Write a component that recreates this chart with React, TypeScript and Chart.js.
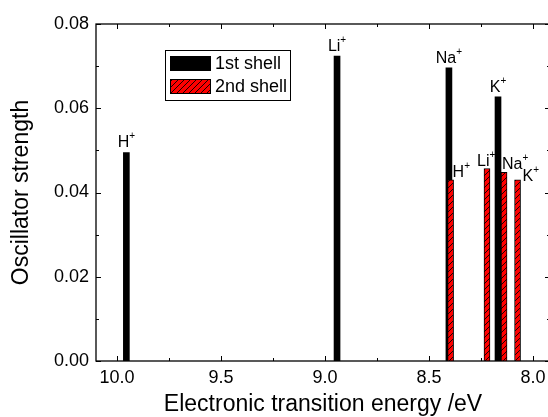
import React, { useEffect, useRef } from "react";
import { Chart, registerables } from "chart.js";

Chart.register(...registerables);

const ions = ["H", "Li", "Na", "K"];
const shell1Energy = [9.955, 8.942, 8.404, 8.168];
const shell1Strength = [0.0495, 0.0724, 0.0696, 0.0627];
const shell2Energy = [8.396, 8.221, 8.139, 8.074];
const shell2Strength = [0.043, 0.0457, 0.0448, 0.043];
const xTickValues = [10.0, 9.5, 9.0, 8.5, 8.0];
const xMinorValues = [10.0, 9.75, 9.5, 9.25, 9.0, 8.75, 8.5, 8.25, 8.0];
const yTickValues = [0.0, 0.02, 0.04, 0.06, 0.08];
const yMinorValues = [0.0, 0.01, 0.02, 0.03, 0.04, 0.05, 0.06, 0.07, 0.08];
const seriesNames = ["1st shell", "2nd shell"];

// label placement (style only): offsets of the 2nd-shell labels from bar centre / top
const shell2LabelDx = [2, -10, -2, 5];
const shell2LabelDy = [-3, -2, -3, 1];

const FONT = "'Liberation Sans', Arial, sans-serif";
const CANVAS_W = 553;
const CANVAS_H = 417;

function makeHatch(): CanvasPattern | string {
  const c = document.createElement("canvas");
  c.width = 6;
  c.height = 6;
  const g = c.getContext("2d");
  if (!g) return "#ff0000";
  g.fillStyle = "#ff0000";
  g.fillRect(0, 0, 6, 6);
  g.strokeStyle = "#000";
  g.lineWidth = 0.9;
  g.beginPath();
  g.moveTo(0, 6);
  g.lineTo(6, 0);
  g.moveTo(-3, 3);
  g.lineTo(3, -3);
  g.moveTo(3, 9);
  g.lineTo(9, 3);
  g.stroke();
  const p = g.createPattern(c, "repeat");
  return p || "#ff0000";
}

export default function App() {
  const ref = useRef<HTMLCanvasElement | null>(null);

  useEffect(() => {
    document.body.style.margin = "0";
    document.documentElement.style.overflow = "hidden";
    const canvas = ref.current;
    if (!canvas) return;
    const hatch = makeHatch();

    const framePlugin = {
      id: "frameTicks",
      afterDraw(chart: any) {
        const ctx = chart.ctx;
        const { left, right, top, bottom } = chart.chartArea;
        const xs = chart.scales.x;
        const ys = chart.scales.y;
        ctx.save();
        ctx.strokeStyle = "#000";
        ctx.lineWidth = 1.3;
        ctx.strokeRect(left, top, right - left, bottom - top);
        ctx.lineWidth = 1;
        ctx.beginPath();
        xMinorValues.forEach((v) => {
          const px = Math.round(xs.getPixelForValue(v)) + 0.5;
          const major = xTickValues.some((t) => Math.abs(t - v) < 1e-6);
          const len = major ? 5 : 3;
          ctx.moveTo(px, bottom);
          ctx.lineTo(px, bottom - len);
          ctx.moveTo(px, top);
          ctx.lineTo(px, top + len);
        });
        yMinorValues.forEach((v) => {
          const py = Math.round(ys.getPixelForValue(v)) + 0.5;
          const major = yTickValues.some((t) => Math.abs(t - v) < 1e-6);
          const len = major ? 5 : 3;
          ctx.moveTo(left, py);
          ctx.lineTo(left + len, py);
          ctx.moveTo(right, py);
          ctx.lineTo(right - len, py);
        });
        ctx.stroke();

        const drawIon = (name: string, x: number, yBase: number, align: string) => {
          ctx.font = `16px ${FONT}`;
          const w = ctx.measureText(name).width;
          ctx.font = `10px ${FONT}`;
          const wp = ctx.measureText("+").width;
          let startX = x;
          if (align === "center") startX = x - (w + wp) / 2;
          ctx.fillStyle = "#000";
          ctx.textBaseline = "alphabetic";
          ctx.textAlign = "left";
          ctx.font = `16px ${FONT}`;
          ctx.fillText(name, startX, yBase);
          ctx.font = `10px ${FONT}`;
          ctx.fillText("+", startX + w, yBase - 8);
        };
        ions.forEach((name, i) => {
          const px = xs.getPixelForValue(shell1Energy[i]);
          const py = ys.getPixelForValue(shell1Strength[i]);
          drawIon(name, px, py - 5, "center");
        });
        ions.forEach((name, i) => {
          const px = xs.getPixelForValue(shell2Energy[i]);
          const py = ys.getPixelForValue(shell2Strength[i]);
          drawIon(name, px + shell2LabelDx[i], py + shell2LabelDy[i], "left");
        });

        // legend
        const lx = 165, ly = 50, lw = 125, lh = 50;
        ctx.lineWidth = 1;
        ctx.strokeStyle = "#000";
        ctx.fillStyle = "#fff";
        ctx.fillRect(lx, ly, lw, lh);
        ctx.strokeRect(lx + 0.5, ly + 0.5, lw, lh);
        ctx.fillStyle = "#000";
        ctx.fillRect(170, 56, 41, 15);
        ctx.fillStyle = hatch as any;
        ctx.fillRect(170, 79, 41, 15);
        ctx.strokeRect(170.5, 79.5, 40, 14);
        ctx.fillStyle = "#000";
        ctx.font = `18px ${FONT}`;
        ctx.textBaseline = "middle";
        ctx.fillText(seriesNames[0], 215, 64);
        ctx.fillText(seriesNames[1], 215, 87);
        ctx.restore();
      },
    };

    const chart = new Chart(canvas, {
      type: "bar",
      data: {
        datasets: [
          {
            label: seriesNames[0],
            data: shell1Energy.map((x, i) => ({ x, y: shell1Strength[i] })),
            backgroundColor: "#000",
            borderWidth: 0,
            barThickness: 6,
            grouped: false,
            order: 2,
          } as any,
          {
            label: seriesNames[1],
            data: shell2Energy.map((x, i) => ({ x, y: shell2Strength[i] })),
            backgroundColor: hatch as any,
            borderColor: "#000",
            borderWidth: 1,
            barThickness: 6,
            grouped: false,
            order: 1,
          } as any,
        ],
      },
      options: {
        responsive: false,
        animation: false,
        devicePixelRatio: 1,
        layout: { padding: { top: 24, right: CANVAS_W - 550, left: 0, bottom: 0 } },
        plugins: { legend: { display: false }, tooltip: { enabled: false } },
        scales: {
          x: {
            type: "linear",
            reverse: true,
            min: 7.918,
            max: 10.101,
            offset: false,
            grid: { display: false, drawTicks: false },
            border: { display: false },
            afterBuildTicks: (s: any) => {
              s.ticks = xTickValues.map((v) => ({ value: v }));
            },
            afterFit: (s: any) => {
              s.height = CANVAS_H - 361;
            },
            ticks: {
              autoSkip: false,
              maxRotation: 0,
              padding: 6,
              color: "#000",
              font: { family: FONT, size: 18 },
              callback: (v: any) => Number(v).toFixed(1),
            },
            title: {
              display: true,
              text: "Electronic transition energy /eV",
              color: "#000",
              font: { family: FONT, size: 23, lineHeight: 1.1 },
              padding: { top: 0, bottom: 0 },
            },
          },
          y: {
            type: "linear",
            min: 0,
            max: 0.08,
            grid: { display: false, drawTicks: false },
            border: { display: false },
            afterBuildTicks: (s: any) => {
              s.ticks = yTickValues.map((v) => ({ value: v }));
            },
            afterFit: (s: any) => {
              s.width = 96;
            },
            ticks: {
              padding: 7,
              color: "#000",
              font: { family: FONT, size: 18 },
              callback: (v: any) => Number(v).toFixed(2),
            },
            title: {
              display: true,
              text: "Oscillator strength",
              color: "#000",
              font: { family: FONT, size: 23 },
              padding: { top: 8, bottom: 0 },
            },
          },
        },
      },
      plugins: [framePlugin],
    } as any);

    return () => chart.destroy();
  }, []);

  return (
    <div style={{ width: 548, height: 417, overflow: "hidden", background: "#fff" }}>
      <canvas ref={ref} width={CANVAS_W} height={CANVAS_H} style={{ display: "block" }} />
    </div>
  );
}
